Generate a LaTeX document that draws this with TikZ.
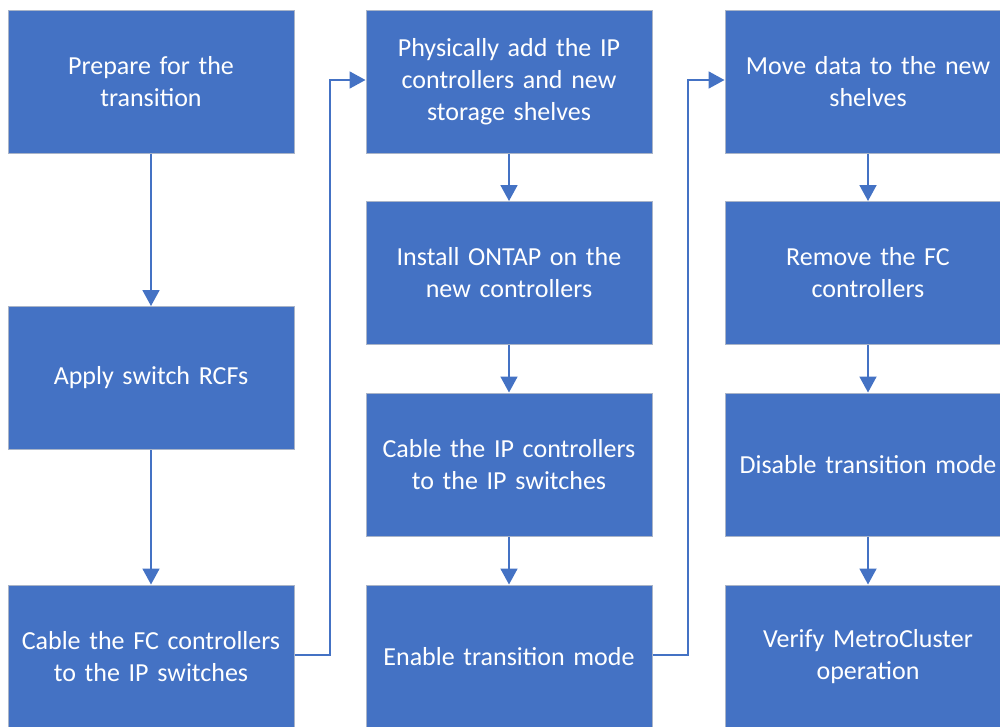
\documentclass[tikz,border=0pt]{standalone}
\usepackage{fontspec}
\setmainfont{Carlito}
\usetikzlibrary{arrows.meta}
\definecolor{boxblue}{HTML}{4472C4}
\definecolor{boxedge}{HTML}{A9B4C8}
\tikzset{
  stepbox/.style={rectangle, fill=boxblue, draw=boxedge, line width=1pt,
    minimum width=286pt, minimum height=143pt, inner sep=0pt,
    text=white, align=center, text width=276pt,
    font=\fontsize{26pt}{32pt}\selectfont},
  flow/.style={draw=boxblue, line width=1.8pt,
    -{Triangle[length=16pt,width=17pt]}}
}
\begin{document}
\begin{tikzpicture}[x=1pt,y=-1pt]
\useasboundingbox (0,0) rectangle (1000,726);
\clip (0,0) rectangle (1000,726);
\fill[white] (0,0) rectangle (1000,726);
% column 1
\node[stepbox] (a1) at (151,81.5) {Prepare for the\\transition};
\node[stepbox] (a2) at (151,378) {Apply switch RCFs};
\node[stepbox] (a3) at (151,656.5) {Cable the FC controllers\\to the IP switches};
% column 2
\node[stepbox] (b1) at (509,81.5) {Physically add the IP\\controllers and new\\storage shelves};
\node[stepbox] (b2) at (509,273) {Install ONTAP on the\\new controllers};
\node[stepbox] (b3) at (509,464.5) {Cable the IP controllers\\to the IP switches};
\node[stepbox] (b4) at (509,656.5) {Enable transition mode};
% column 3
\node[stepbox] (c1) at (868,81.5) {Move data to the new\\shelves};
\node[stepbox] (c2) at (868,273) {Remove the FC\\controllers};
\node[stepbox] (c3) at (868,464.5) {Disable transition mode};
\node[stepbox] (c4) at (868,656.5) {Verify MetroCluster\\operation};
% connectors
\draw[flow] (a1.south) -- (a2.north);
\draw[flow] (a2.south) -- (a3.north);
\draw[flow] (b1.south) -- (b2.north);
\draw[flow] (b2.south) -- (b3.north);
\draw[flow] (b3.south) -- (b4.north);
\draw[flow] (c1.south) -- (c2.north);
\draw[flow] (c2.south) -- (c3.north);
\draw[flow] (c3.south) -- (c4.north);
\coordinate (j1) at (330,655);
\coordinate (j2) at (688,655);
\draw[flow] (a3.east |- j1) -- (j1) -- (330,80) -- (b1.west |- 0,80);
\draw[flow] (b4.east |- j2) -- (j2) -- (688,80) -- (c1.west |- 0,80);
\end{tikzpicture}
\end{document}
